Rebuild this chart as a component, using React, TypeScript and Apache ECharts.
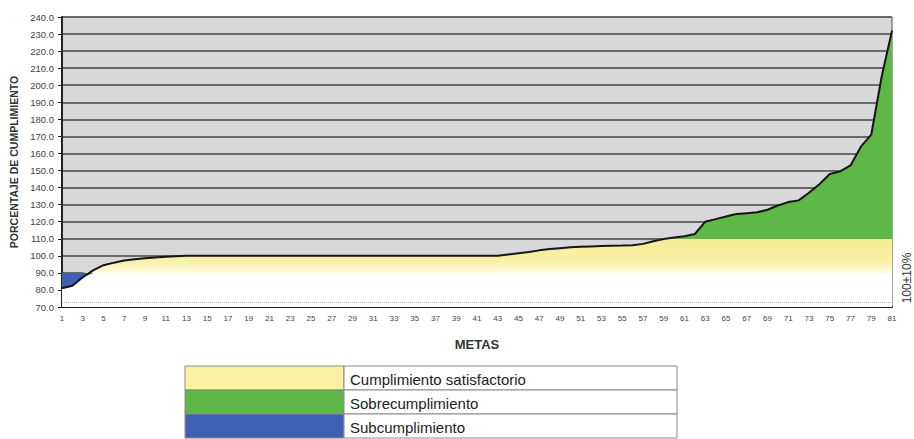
import React, { useEffect, useRef } from "react";
import * as echarts from "echarts";

const metas = [
  "1", "2", "3", "4", "5", "6", "7", "8", "9", "10",
  "11", "12", "13", "14", "15", "16", "17", "18", "19", "20",
  "21", "22", "23", "24", "25", "26", "27", "28", "29", "30",
  "31", "32", "33", "34", "35", "36", "37", "38", "39", "40",
  "41", "42", "43", "44", "45", "46", "47", "48", "49", "50",
  "51", "52", "53", "54", "55", "56", "57", "58", "59", "60",
  "61", "62", "63", "64", "65", "66", "67", "68", "69", "70",
  "71", "72", "73", "74", "75", "76", "77", "78", "79", "80",
  "81",
];

const cumplimiento = [
  81, 82.5, 87.5, 91.5, 94.5, 96, 97.3, 98, 98.6, 99,
  99.4, 99.7, 100, 100, 100, 100, 100, 100, 100, 100,
  100, 100, 100, 100, 100, 100, 100, 100, 100, 100,
  100, 100, 100, 100, 100, 100, 100, 100, 100, 100,
  100, 100, 100, 100.8, 101.5, 102.2, 103.2, 104, 104.5, 105,
  105.3, 105.5, 105.7, 105.9, 106, 106.2, 107, 108.5, 109.8, 110.7,
  111.5, 112.8, 120, 121.5, 123, 124.5, 125, 125.5, 127, 129.5,
  131.5, 132.5, 137, 142, 148, 149.5, 153, 164, 171, 205,
  232,
];

const bandLow = 90;
const bandHigh = 110;
const yMin = 70;
const yMax = 240;
const yStep = 10;

const legendLabels = ["Cumplimiento satisfactorio", "Sobrecumplimiento", "Subcumplimiento"];
const bandLabel = "100±10%";
const xTitle = "METAS";
const yTitle = "PORCENTAJE DE CUMPLIMIENTO";

const FONT = "'Liberation Sans', Arial, sans-serif";
const COLORS = {
  plotBg: "#d8d8da",
  grid: "#6a6a6a",
  green: "#5db847",
  blue: "#3e5fb2",
  line: "#151515",
};
const legendColors = ["#f9f1a4", "#5db847", "#3f60b3"];

export default function App() {
  const ref = useRef<HTMLDivElement>(null);

  useEffect(() => {
    if (!ref.current) return;
    const chart = echarts.init(ref.current, null, { renderer: "svg" });

    const base = cumplimiento.map((v) => Math.min(v, bandLow));
    const sub = cumplimiento.map((v) => Math.max(0, bandLow - v));
    const sat = cumplimiento.map((v) => (v < bandLow ? 0 : Math.min(v, bandHigh) - bandLow));
    const sobre = cumplimiento.map((v) => Math.max(0, v - bandHigh));

    const areaSeries = (name: string, data: number[], color: any, extra: any = {}) => ({
      name,
      type: "line",
      stack: "bands",
      data,
      symbol: "none",
      lineStyle: { width: 0 },
      areaStyle: { color, opacity: 1 },
      z: 2,
      silent: true,
      ...extra,
    });

    const legendX = 185;
    const legendY = 366;
    const cellW1 = 159;
    const cellW2 = 333;
    const rowH = 24;
    const legendChildren: any[] = [];
    legendLabels.forEach((label, i) => {
      legendChildren.push({
        type: "rect",
        shape: { x: legendX, y: legendY + i * rowH, width: cellW1, height: rowH },
        style: { fill: legendColors[i], stroke: "#8a8a8a", lineWidth: 1 },
      });
      legendChildren.push({
        type: "rect",
        shape: { x: legendX + cellW1, y: legendY + i * rowH, width: cellW2, height: rowH },
        style: { fill: "#ffffff", stroke: "#8a8a8a", lineWidth: 1 },
      });
      legendChildren.push({
        type: "text",
        x: legendX + cellW1 + 6,
        y: legendY + i * rowH + rowH / 2 + 1,
        style: {
          text: label,
          fill: "#222",
          font: `15px ${FONT}`,
          textVerticalAlign: "middle",
        },
      });
    });

    chart.setOption({
      animation: false,
      grid: {
        left: 62,
        right: 22,
        top: 17,
        bottom: 132,
        show: true,
        backgroundColor: COLORS.plotBg,
        borderColor: "#4a4a4a",
        borderWidth: 1,
      },
      xAxis: {
        type: "category",
        data: metas,
        boundaryGap: false,
        name: xTitle,
        nameLocation: "middle",
        nameGap: 31,
        nameTextStyle: {
          fontFamily: FONT,
          fontWeight: "bold",
          fontSize: 13,
          color: "#333",
        },
        axisLine: { show: true, lineStyle: { color: "#222", width: 2 } },
        axisTick: { show: false },
        axisLabel: {
          interval: 1,
          fontSize: 8,
          color: "#444",
          margin: 7,
          fontFamily: FONT,
        },
        splitLine: { show: false },
      },
      yAxis: {
        type: "value",
        min: yMin,
        max: yMax,
        interval: yStep,
        name: yTitle,
        nameLocation: "middle",
        nameGap: 42,
        nameTextStyle: {
          fontFamily: FONT,
          fontWeight: "bold",
          fontSize: 10.5,
          color: "#333",
        },
        axisLine: { show: true, lineStyle: { color: "#222", width: 2 } },
        axisTick: { show: true, length: 4, lineStyle: { color: "#222" } },
        axisLabel: {
          formatter: (v: number) => v.toFixed(1),
          fontSize: 9.5,
          color: "#444",
          margin: 8,
          fontFamily: FONT,
        },
        splitLine: { show: true, lineStyle: { color: COLORS.grid, width: 1.8 } },
      },
      series: [
        areaSeries("base", base, "#ffffff", {
          markLine: {
            silent: true,
            symbol: "none",
            label: { show: false },
            lineStyle: { color: "#b5b5b5", type: "dotted", width: 1 },
            data: [{ yAxis: 72.5 }],
          },
        }),
        areaSeries("Subcumplimiento", sub, COLORS.blue),
        areaSeries(
          "Cumplimiento satisfactorio",
          sat,
          new echarts.graphic.LinearGradient(0, 0, 0, 1, [
            { offset: 0, color: "#f6ed94" },
            { offset: 0.65, color: "#f8f1a6" },
            { offset: 1, color: "#fdfae2" },
          ])
        ),
        areaSeries("Sobrecumplimiento", sobre, COLORS.green),
        {
          name: "Cumplimiento",
          type: "line",
          data: cumplimiento,
          symbol: "none",
          lineStyle: { color: COLORS.line, width: 2 },
          z: 3,
        },
      ],
      graphic: [
        {
          type: "text",
          x: 907,
          y: 278,
          rotation: Math.PI / 2,
          style: {
            text: bandLabel,
            fill: "#333",
            font: `12px ${FONT}`,
            textAlign: "center",
            textVerticalAlign: "middle",
          },
        },
        { type: "group", children: legendChildren },
      ],
    });

    return () => chart.dispose();
  }, []);

  return <div ref={ref} style={{ width: 914, height: 439, position: "absolute", left: 0, top: 0 }} />;
}
